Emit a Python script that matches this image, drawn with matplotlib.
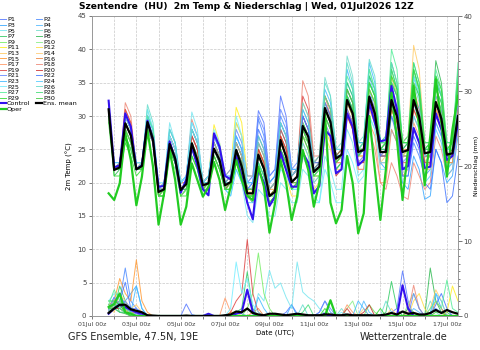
import numpy as np
import matplotlib
matplotlib.use("Agg")
import matplotlib.pyplot as plt
from matplotlib.ticker import MultipleLocator

# 6-hourly steps from 01Jul 18z to 17Jul 12z, in days since 01Jul 00z
steps_h = np.arange(18, 18 + 6 * 64, 6)
days = steps_h / 24.0

tick_days = np.arange(0, 17)
tick_labels = ["%02dJul 00z" % (d + 1) if d % 2 == 0 else "" for d in tick_days]

# 2m temperature (degC)
temp_members = [
    [30, 22,22,29,27, 22,23,29,26, 19,19,26,24, 20,21,27,25, 20,21,26,24, 21,21,27,25, 20,21,30.8,29, 21,22,33,30, 22,22,29,27, 21,22,30,28, 23,24,31,29, 24,25,32,30, 24,25,31,29, 22,22,28,26, 23,24,31,29, 24,24,29],
    [31, 22,22,30,28, 22,22,28,26, 18,19,25,23, 19,20,27,25, 20,20,24,22, 20,21,26,24, 19,20,29.5,27, 20,21,30,28, 21,22,27,25, 22,23,31,29, 24,24,33,31, 25,25,34,31, 25,26,30,28, 21,21,26,24, 21,22,29,27, 22,23,28],
    [30, 22,22,28,26, 22,22,30,28, 19,19,27,25, 19,20,26,24, 19,20,25,23, 20,20,25,23, 19,19,27,25, 19,20,28,26, 21,22,29,27, 23,23,32,30, 24,25,34,32, 25,26,33,31, 23,22,28,26, 20,19,24,22, 17.5,18,25,23, 20,21,27],
    [31, 22,23,30,28, 23,23,30,27, 19,20,27,25, 20,20,28,26, 20,21,27,25, 20,21,27,25, 20,20,25,23, 19,20,27,25, 21,22,30,28, 22,23,32,30, 24,25,35,33, 26,26,36,33, 25,25,33,30, 24,25,32,29, 23,24,29,27, 23,23,28],
    [31, 23,23,29,27, 23,23,30,28, 19,20,29,26, 20,21,30.6,28, 20,21,27,25, 19,18,22,20, 15,14,19,18, 15,15,20,19, 17,17,22,21, 17,17,24,22, 19,19,28,26, 21,22,30,28, 22,22,31,29, 22,23,30,28, 22,22,30,28, 22,23,31],
    [32, 22,22,30,28, 22,23,31,28, 19,19,28,26, 19,20,28,26, 20,20,26,24, 20,21,29,27, 19,19,26,24, 19,20,28,26, 21,22,31,29, 23,24,35.8,33, 25,26,39,36, 26,27,37,34, 26,26,36,33, 26,26,35,32, 25,25,34,32, 25,26,34],
    [30, 22,22,27,25, 22,22,28,26, 18,19,25,23, 18,19,24,22, 19,19,24,22, 19,20,24,22, 18,18,23,21, 18,19,26,24, 20,21,29,27, 22,23,33,31, 24,25,35,33, 25,26,36,34, 26,27,37,34, 26,26,36,33, 25,26,36,33, 25,25,35],
    [31, 21,22,28,26, 22,22,29,27, 18,18,25,23, 18,19,25,23, 19,20,24,22, 19,19,23,21, 18,17,22,20, 17,18,25,23, 19,20,28,26, 21,22,30,28, 23,24,32,30, 25,25,35,33, 26,26,38,35, 26,27,37,34, 26,26,38.3,35, 26,26,37],
    [30, 22,22,27,25, 22,22,28,26, 18,18,24,22, 18,19,24,22, 19,20,25,23, 19,20,25,23, 19,19,25,23, 18,19,25,23, 20,21,29,27, 22,23,32,30, 24,25,33,31, 26,26,34,32, 26,26,36,33, 25,26,36,34, 25,26,35,33, 25,26,36],
    [31, 22,22,29,27, 22,23,29,27, 19,19,26,24, 19,20,25,23, 20,21,26,24, 20,20,24,22, 18,18,23,21, 18,18,24,22, 19,20,27,26, 21,22,31,29, 23,24,33,31, 24,25,34,32, 25,26,35,33, 26,26,37,34, 25,25,34,32, 25,25,33],
    [31, 22,23,29,27, 22,23,29,27, 19,20,26,24, 19,20,26,24, 20,21,28.7,26, 21,22,31.3,29, 21,21,27,25, 18,18,24,22, 19,20,26,24, 20,21,28,26, 22,23,31,29, 24,24,32,30, 24,24,31,29, 24,25,33,31, 24,24,33,31, 24,25,32],
    [31, 22,22,29,27, 22,22,28,26, 18,19,25,23, 19,20,25,23, 19,20,27,25, 20,21,29,27, 19,18,25,23, 17,17,23,21, 18,18,24,22, 19,20,27,25, 22,22,30,28, 23,24,31,29, 24,24,31,29, 24,24,32,30, 23,24,31,29, 23,24,32],
    [30, 22,22,28,26, 22,22,29,27, 19,19,26,24, 19,19,26,24, 19,20,25,23, 20,20,26,24, 19,19,24,22, 18,19,26,24, 20,21,28,26, 21,22,30,28, 23,24,33,31, 24,25,34,32, 25,26,36,33, 26,27,40.6,37, 26,26,33,30, 24,24,30],
    [30, 22,22,28,26, 22,22,28,26, 18,19,25,23, 18,19,25,23, 19,19,24,22, 19,20,25,23, 18,19,25,23, 18,19,26,24, 20,20,27,25, 21,21,29,27, 22,23,31,29, 23,23,31,29, 23,24,32,30, 24,24,30,28, 22,22,30,28, 23,23,31],
    [31, 22,23,30,28, 23,23,29,27, 19,20,27,25, 20,20,27,25, 20,21,26,24, 20,20,26,24, 19,19,25,23, 19,19,27,25, 20,21,30,28, 22,23,31,29, 23,24,32,30, 25,25,33,31, 24,24,33,31, 25,25,34,31, 24,24,31,29, 23,24,30],
    [31, 22,22,29,27, 22,22,28,26, 18,19,25,23, 19,19,26,24, 19,20,25,23, 19,20,24,22, 18,18,24,22, 18,19,26,24, 20,20,28,26, 21,22,30,28, 23,23,31,29, 24,24,32,30, 24,25,32,30, 24,24,31,29, 23,23,30,28, 23,23,31],
    [31, 22,22,31,29, 22,23,29,27, 19,19,26,24, 19,20,27,25, 20,20,25,23, 20,20,25,23, 19,19,24,22, 18,19,27,25, 21,22,32,30, 23,23,32,30, 23,24,31,29, 22,22,29,27, 20,20,28,26, 21,22,29,27, 22,23,31,29, 23,24,31],
    [31, 22,22,32,30, 22,23,30,28, 19,20,27,25, 20,21,29.5,27, 20,21,26,24, 20,20,26,24, 19,19,25,23, 19,20,29,27, 21,22,35.3,33, 24,24,33,30, 23,23,31,28, 22,22,28,25, 20,19,23,21, 18,17.5,23,21, 19,20,27,25, 21,22,28],
    [30, 22,22,31,29, 22,22,29,27, 19,19,27,25, 19,20,28,26, 20,20,26,24, 20,21,26,24, 19,19,26,24, 19,20,28,26, 21,22,33,31, 23,24,33,31, 24,25,34,32, 24,25,33,31, 23,23,31,29, 23,23,31,29, 23,23,32,30, 24,24,33],
    [31, 22,23,30,28, 22,22,29,27, 19,19,26,24, 19,20,27,25, 20,20,25,23, 19,20,25,23, 19,19,25,23, 18,19,27,25, 20,21,30,28, 22,23,31,29, 21,22,30,28, 23,23,32,30, 24,24,33,31, 24,24,32,30, 24,24,32,30, 24,25,32],
    [32, 22,22,30,28, 22,22,29,27, 19,19,26,24, 20,21,28,26, 20,21,27,25, 21,22,28,26, 21,21,30,28, 21,22,31,29, 22,23,30,28, 22,22,29,27, 22,23,31,29, 23,24,33,31, 24,25,34,31, 23,24,33,31, 24,24,33,31, 24,24,32],
    [31, 22,22,29,27, 22,22,28,26, 19,19,25,23, 19,19,25,23, 20,20,25,23, 20,20,25,23, 19,20,28,26, 20,21,29,27, 21,22,30,28, 23,23,32,30, 24,24,33,31, 24,25,33,30, 24,24,30,27, 21,21,27,25, 20,19,25,23, 17,18,24],
    [31, 23,23,30,28, 23,23,30,28, 19,20,28,26, 20,21,29,27, 20,21,27,25, 20,21,27,25, 20,20,27,25, 20,21,29,27, 22,22,31,29, 22,23,34,32, 25,25,37,34, 26,26,38,35, 25,26,35,33, 25,26,36,33, 25,25,35,33, 25,25,34],
    [31, 22,22,29,27, 22,23,30,28, 19,20,27,25, 20,21,28,26, 20,20,25,23, 19,18,22,20, 17,17,23,21, 17,17,24,22, 19,19,26,24, 20,21,30,28, 22,23,33,31, 24,25,35,33, 25,25,35,33, 22,22,30,28, 20,21,28,26, 21,22,29],
    [31, 22,23,30,28, 23,23,31,28, 20,20,27,25, 20,21,29,27, 20,21,28,26, 21,21,30,27, 20,19,24,22, 18,18,22,21, 19,19,24,22, 18,17,22,20, 17,17,25,23, 20,21,30,28, 23,23,33,31, 24,24,36,33, 24,25,34,32, 25,25,33],
    [31, 22,22,30,28, 22,22,31.7,29, 19,19,28,26, 19,20,28,26, 20,20,26,24, 20,20,26,24, 19,19,26,24, 19,20,29,27, 21,22,32,30, 23,24,35,33, 25,25,38,35, 25,26,38.5,36, 26,27,38,35, 26,26,37,34, 25,26,36,33, 25,25,36],
    [30, 22,22,28,26, 22,22,30,28, 18,19,26,24, 19,19,26,24, 19,20,25,23, 19,19,24,22, 18,18,24,22, 18,18,25,23, 19,20,28,26, 21,22,33,31, 24,24,36,34, 25,26,37,34, 26,26,40,37, 26,27,38,35, 26,26,37,34, 26,26,38],
    [30, 22,22,27,25, 22,22,29,27, 18,18,25,23, 18,19,25,23, 19,19,24,22, 19,19,24,22, 18,18,23,21, 17,18,25,23, 19,20,28,26, 21,22,31,29, 23,24,34,32, 25,25,35,33, 25,26,37,34, 26,26,38,35, 26,26,35,33, 25,26,36],
    [29, 21,21,26,24, 21,22,29,27, 18,18,25,23, 18,18,24,22, 18,19,24,22, 19,19,23,21, 18,18,22,20, 17,18,24,22, 19,20,27,25, 21,21,30,28, 22,23,33,31, 24,25,35,33, 25,26,36,34, 26,26,37,34, 25,26,36,34, 25,26,35],
    [30, 22,22,28,26, 22,22,29,27, 18,19,25,23, 19,19,25,23, 19,20,25,23, 19,20,25,23, 19,19,24,22, 18,19,25,23, 20,20,28,26, 22,22,31,29, 23,24,34,32, 25,25,34,32, 25,25,35,33, 25,26,35,33, 25,25,34,32, 24,25,34],
]
temp_control = [32.3, 22.3,22.6,30.4,28.4, 22,22.6,29.3,26.5, 19.4,19.5,26.2,23.5, 18.5,20.5,25.4,22.5,
                19,18.1,27.4,25.4, 21,20.5,24,21, 17,14.5,22,20, 16.5,17.9,24.6,21.9, 19.4,19.4,24.5,23,
                18.4,19.5,27.9,27, 21.4,22,30.4,28.4, 22.6,23.4,32,29, 26.2,26.4,34.5,31, 22,22.5,28.2,26,
                22.2,22.4,30.4,28, 23.4,24,29]
temp_oper = [18.4, 17.4,19.9,27.4,23.4, 16.6,20.9,27.9,22.4, 13.7,18.4,24.9,20.4, 13.7,16.4,22.9,20.4,
             17.9,19.4,23.1,20.4, 15.9,19.4,23.4,20.4, 18,17.4,22.4,19.4, 12.5,16.9,23.4,20, 14.4,17.9,24.9,21.9,
             16.4,20,30.4,17, 13.9,15.9,24,20, 12.4,15.4,30,22, 14.4,22,33.5,26.4, 17.4,25,34.5,28.4,
             19.6,27,35.5,29, 20.9,28,33]
temp_mean = [31, 21.9,22.3,28.9,27.1, 22,22.5,29.1,26.4, 18.6,19,25.8,23.6, 18.9,19.8,25.9,23.4,
             19.6,19.9,25.1,23.4, 19.6,20.1,24.9,22.4, 18.4,18.4,24.2,22.1, 18,18.6,26.4,23.9, 20.1,20.9,28.5,26.9,
             21.6,22.4,31.2,29.1, 23.6,24.2,32.4,30.4, 24.6,24.9,32.9,30.4, 24.6,24.6,32.4,29.9, 24.6,24.9,32.4,29.9,
             24.4,24.6,32.1,29.6, 24.2,24.4,30]

# precipitation (mm)
precip_members = [
    [.5, 2,3,1.5,.5, .3,0,0,0, 0,0,0,0, 0,1.6,.2,0, 0,0,0,0, 0,0,0,0, 0,0,0,0, 0,0,0,.5, 1.5,.3,0,0, 0,0,0,0, 0,0,0,0, 0,0,0,0, 0,0,.5,1, 6,2,0,0, 0,0,0,0, 0,0,0],
    [.8, 1.5,2,6.4,2, 1,.5,0,0, 0,0,0,0, 0,0,0,0, 0,0,0,0, 0,0,.5,.3, 0,0,0,0, 0,0,0,0, 0,0,0,0, 0,.5,2,.5, 0,0,0,0, 0,0,0,0, 0,0,0,0, 0,0,0,0, 0,.5,1,.5, 0,0,0],
    [1.2, 2.5,1,2,3, 4,1,0,0, 0,0,0,0, 0,0,0,0, 0,0,0,0, 0,0,0,0, 0,0,0,0, 0,0,0,0, 1.5,0,0,0, 0,0,0,0, 0,0,0,0, 0,0,0,0, 0,0,0,0, 0,0,0,0, 0,.5,3,1, 0,0,0],
    [.3, 1,2,1,.5, .5,0,0,0, 0,0,0,0, 0,0,0,0, 0,0,0,0, 0,0,0,0, 0,0,0,0, 0,0,0,0, 0,0,0,0, 0,0,0,0, 0,0,0,0, 0,2,.5,0, 0,0,0,0, 0,0,1,.5, 0,0,0,0, 0,0,0],
    [2, 3,1.5,.5,0, 0,0,0,0, 0,0,0,0, 0,0,0,0, 0,0,0,0, 0,0,0,0, 0,0,3,2, 6.1,3.7,4.4,2.5, 1,7.2,3.2,2.5, 2,1,.3,0, 0,0,0,0, 0,0,0,0, 0,0,0,0, 0,0,0,0, 0,0,0,0, 0,0,0],
    [1.5, 2,1,.5,0, 0,0,0,0, 0,0,0,0, 0,0,0,0, 0,0,0,0, 0,0,0,0, 0,0,0,0, 0,0,0,0, 0,0,0,0, 0,0,0,0, 0,1,0,0, 0,0,0,0, 0,0,0,0, 0,0,0,0, 0,2,.5,0, 0,0,0],
    [1.5, 1,4,2,.5, 0,0,0,0, 0,0,0,0, 0,0,0,0, 0,0,0,0, 0,0,.5,1, 5.9,1,0,0, 0,0,0,0, 0,0,0,0, 0,0,0,0, 0,0,0,0, 0,0,0,0, 0,.5,4.6,1, 0,0,.5,0, 0,0,0,0, 0,0,0],
    [1, 2,.5,.3,0, 0,0,0,0, 0,0,0,0, 0,0,0,0, 0,0,0,0, 0,0,0,0, 0,0,0,0, 0,0,0,0, 0,0,0,0, 0,0,0,0, 0,0,0,0, 0,0,0,0, 0,0,0,0, 0,0,0,0, 0,6.4,2,.5, .5,0,0],
    [.5, 1.5,2,1,0, 0,0,0,0, 0,0,0,0, 0,0,0,0, 0,0,0,0, 0,0,0,0, 1,3,8.4,3, 1,0,0,0, 0,0,0,0, 0,0,0,0, 0,0,0,0, 0,0,1.5,.5, 0,0,0,0, 0,0,0,0, 0,0,0,0, 0,0,0],
    [1, 1,1.5,.5,.5, 0,0,0,0, 0,0,0,0, 0,0,0,0, 0,0,0,0, 0,0,0,0, 0,0,0,0, 0,0,0,0, 0,0,0,0, 0,0,0,0, 0,0,1,2, 0,0,0,0, 0,0,0,0, 0,1.5,3,1, 0,0,0,0, 0,0,0],
    [.5, 1,2,.5,0, 0,0,0,0, 0,0,0,0, 0,0,0,0, 0,0,0,0, 0,.5,.5,0, 0,0,0,0, 0,0,0,0, 0,0,0,0, 0,0,0,0, 0,0,0,0, 0,0,0,0, 0,0,0,0, 0,0,0,0, 0,0,0,0, .5,4,2],
    [1, 2,1,.5,0, 0,0,0,0, 0,0,0,0, 0,0,0,0, 0,0,0,0, 0,0,0,0, 0,0,0,0, 0,0,0,0, 0,0,0,0, 0,0,0,0, 0,0,0,0, 0,0,0,0, 0,0,0,0, 0,0,2,3, 1,0,0,0, 0,0,0],
    [1, .5,3,2,1, 1.5,.5,0,0, 0,0,0,0, 0,0,0,0, 0,0,0,0, 0,0,0,0, 0,0,0,0, 0,0,0,0, 0,0,0,0, 0,0,0,0, 0,0,0,0, 0,0,0,0, 0,0,1,0, 0,0,0,0, 0,1,3.5,2, 0,0,0],
    [1, 2,1,.5,.5, 0,0,0,0, 0,0,0,0, 0,0,0,0, 0,0,0,0, 0,0,0,0, 0,0,0,0, 0,0,0,0, 0,0,0,0, 0,0,0,0, 0,0,0,0, 0,1,0,0, 0,0,0,0, 0,0,0,0, 0,0,0,0, 0,0,0],
    [1.5, 2,5,3,2, 7.5,2,.5,0, 0,0,0,0, 0,0,0,0, 0,0,0,0, 0,0,0,0, 0,0,0,0, 0,0,0,0, 0,0,0,0, 0,0,0,0, 0,0,0,0, 0,0,0,0, 0,0,0,0, 0,0,0,0, 0,0,2,1, 0,0,0],
    [.8, 1.5,2,1,.5, .5,0,0,0, 0,0,0,0, 0,0,0,0, 0,0,0,0, 0,0,0,0, 0,.5,1,0, 0,0,0,0, 0,0,0,0, 0,0,0,0, 0,0,0,0, 0,0,0,0, 0,0,0,0, 0,1,.5,0, 0,0,0,0, 0,0,0],
    [.5, 1,1.5,1,0, 0,0,0,0, 0,0,0,0, 0,0,0,0, 0,0,0,0, 2.4,.5,0,0, 0,0,0,0, 0,0,0,0, 0,0,0,0, 0,0,0,0, 0,0,1.5,.5, 0,0,0,0, 0,0,0,0, 0,0,0,0, 0,0,0,0, 0,0,0],
    [.3, 1,2,1.5,.5, 0,0,0,0, 0,0,0,0, 0,0,0,0, 0,0,0,0, 0,0,0,0, 0,0,0,0, 0,0,0,0, 0,0,0,0, 0,0,0,0, 0,0,0,0, 0,0,0,0, 0,0,.5,0, 0,.5,4.1,1, 0,0,0,0, 0,0,0],
    [1, 2,1.5,.5,0, 0,0,0,0, 0,0,0,0, 0,0,0,0, 0,0,0,0, 0,.5,2,3, 10.2,3,.5,0, 0,0,0,0, 0,0,0,0, 0,0,0,0, 0,0,1,0, 0,0,0,0, 0,0,0,0, 0,0,0,0, 0,0,0,0, 0,0,0],
    [.5, 1,1,.5,0, 0,0,0,0, 0,0,0,0, 0,0,0,0, 0,0,0,0, 0,0,0,0, 0,0,0,0, 0,0,0,0, 0,0,0,0, 0,0,0,0, 0,0,0,0, 0,.5,1.5,0, 0,0,0,0, 0,0,0,0, 0,0,0,0, 0,0,0],
    [.8, 2.5,1.5,2,1, 1,0,0,0, 0,0,0,0, 0,0,0,0, 0,0,0,0, 0,0,0,0, 0,0,0,0, 0,0,0,0, 0,0,0,0, 0,.5,2,1, 0,0,0,0, 0,0,0,0, 0,0,0,0, 0,0,3,1, 0,0,0,0, 0,0,0],
    [.5, 1,2,4.5,1, .5,0,0,0, 0,0,0,0, 0,0,0,0, 0,0,0,0, 0,0,0,0, 0,0,0,0, 0,0,0,0, 0,0,0,0, 0,0,0,0, 0,0,0,0, 0,0,0,0, 0,0,0,0, 0,0,0,0, 0,0,1.5,3, 1,0,0],
    [1, 1.5,3,1,.5, 4,1,0,0, 0,0,0,0, 0,0,0,0, 0,0,0,0, 0,0,0,0, 0,0,2.5,1, 0,0,0,0, 0,0,0,0, 0,0,0,0, 0,0,0,0, 2,1,0,0, 0,0,0,0, 0,0,0,0, 0,0,0,0, 0,0,0],
    [.5, 1,.5,.5,0, 0,0,0,0, 0,0,0,0, 0,0,0,0, 0,0,0,0, 0,0,0,0, 0,0,0,0, 0,0,0,0, 0,0,0,0, 0,0,0,0, 0,0,0,0, 0,0,0,0, 0,0,0,0, 0,0,0,0, 0,0,3,2, 0,0,0],
    [1, 2,1,.5,0, 0,0,0,0, 0,0,0,0, 0,0,0,0, 0,0,0,0, 0,1,7.2,3, 5,1.5,.5,0, 0,0,0,0, 0,0,0,0, 0,0,0,0, 0,.5,0,0, 0,0,0,0, 0,0,0,0, 0,0,0,0, 0,0,0,0, 0,0,0],
    [.8, 1,2,.5,0, 0,0,0,0, 0,0,0,0, 0,0,0,0, 0,0,0,0, 0,0,0,0, 0,0,0,0, 0,0,0,0, 0,0,1.5,0, 0,0,0,0, 0,0,0,0, 0,0,0,0, 0,2,.5,0, 0,0,0,0, 0,0,0,0, 0,0,0],
    [1.5, 3.5,2,1,.5, 0,0,0,0, 0,0,0,0, 0,0,0,0, 0,0,0,0, 0,0,0,0, 0,0,0,0, 0,0,0,0, 0,0,0,0, 0,0,0,0, 0,0,0,0, 0,0,0,0, 0,0,0,0, 0,0,0,0, 0,1,2,1, 4.8,1,.5],
    [1, 1.5,1,.5,0, 0,0,0,0, 0,0,0,0, 0,0,0,0, 0,0,0,0, 0,0,0,0, 0,0,0,0, 0,0,0,0, 0,0,.5,1.5, 0,0,0,0, 0,0,0,0, 0,0,0,0, 0,0,0,0, 0,1,.5,0, 0,0,0,0, 0,0,0],
    [2, 2,1.5,.5,0, 0,0,0,0, 0,0,0,0, 0,0,0,0, 0,0,0,0, 0,0,0,0, 0,0,0,0, 0,0,0,0, 0,0,0,0, 0,0,1,0, 0,0,0,0, 0,0,0,0, 1,0,0,0, 0,0,0,0, 0,0,0,0, 0,0,0],
    [1, 1,.5,.5,0, 0,0,0,0, 0,0,0,0, 0,0,0,0, 0,0,0,0, 0,0,0,0, 0,0,0,0, 0,0,0,0, 0,0,0,0, 0,0,0,0, 0,0,0,0, 0,0,0,0, 0,0,0,0, 0,0,0,0, 0,0,.5,.5, 0,0,0],
]
precip_control = [.3, 1,1.5,1.2,.8, .5,.3,0,0, 0,0,0,0, 0,0,0,0, 0,.3,0,0, 0,0,.3,.5, 3.5,.5,0,0, 0,0,0,0,
                  0,0,0,0, 0,0,.3,0, 0,0,0,0, 0,0,0,0, 0,0,0,0, 4.1,1,0,0, 0,0,0,0, 0,0,0]
precip_oper = [1.2, 1.6,3,.5,.3, 0,0,0,0, 0,0,0,0, 0,0,0,0, 0,0,0,0, 0,0,0,0, 0,0,0,0, 0,0,0,0,
               0,0,0,0, 0,0,0,2.1, 0,0,0,0, 0,0,0,0, 0,0,0,0, 0,0,0,0, 0,0,0,0, 0,0,0]
precip_mean = [.4, 1,1.5,1.5,.9, .7,.5,.1,.05, 0,0,0,0, 0,.05,0,0, 0,0,0,0, .1,.2,.6,.5, 1,.4,.2,.1,
               .3,.3,.2,.1, .2,.3,.2,.1, .1,.1,.2,.2, .1,.1,.2,.1, .1,.1,.1,.05, .1,.2,.4,.2, .6,.3,.4,.2,
               .2,.4,.8,.4, .8,.5,.3]

member_names = ["P%d" % (i + 1) for i in range(30)]
member_colors = ["#5577ff", "#4f8cff", "#3aa8ff", "#55bbff", "#77e6f0", "#77ddcc", "#33cc66", "#33bb55",
                 "#77ee66", "#88ee88", "#ffee22", "#ffdd44", "#ffcc66", "#ffcc77", "#ff9933", "#ee8844",
                 "#ff9966", "#ee8877", "#dd4444", "#cc3333", "#6688ff", "#4477ff", "#44bbff", "#55ccff",
                 "#77eeff", "#66ddcc", "#55ee99", "#44dd77", "#33dd33", "#44cc44"]
control_color = "#3311ee"
oper_color = "#22cc22"
mean_color = "black"

for m in temp_members + precip_members:
    assert len(m) == len(days), len(m)

fig = plt.figure(figsize=(4.8, 3.5), dpi=100)
ax = fig.add_axes([92 / 480, 34 / 350, 366 / 480, 300 / 350])
ax2 = ax.twinx()

handles = {}
for name, col, tv, pv in zip(member_names, member_colors, temp_members, precip_members):
    handles[name], = ax.plot(days, tv, color=col, lw=0.7, alpha=0.85)
    ax2.plot(days, pv, color=col, lw=0.7, alpha=0.85)

handles["Control"], = ax.plot(days, temp_control, color=control_color, lw=1.5)
ax2.plot(days, precip_control, color=control_color, lw=1.5)
handles["Oper"], = ax.plot(days, temp_oper, color=oper_color, lw=1.6)
ax2.plot(days, precip_oper, color=oper_color, lw=1.6)
handles["Ens. mean"], = ax.plot(days, temp_mean, color=mean_color, lw=1.6)
ax2.plot(days, precip_mean, color=mean_color, lw=1.6)

ax.set_xlim(0, 16.5)
ax.set_ylim(0, 45)
ax2.set_ylim(0, 40)
ax.set_xticks(tick_days)
ax.set_xticklabels(tick_labels)
ax.yaxis.set_major_locator(MultipleLocator(5))
ax2.yaxis.set_major_locator(MultipleLocator(10))
ax2.yaxis.set_minor_locator(MultipleLocator(1))
ax.grid(color="#c8c8c8", linestyle="--", linewidth=0.5)
ax.tick_params(labelsize=4.5, length=2, width=0.5, colors="#444444", pad=2)
ax2.tick_params(which="both", labelsize=5, width=0.5, colors="#444444", pad=1)
ax2.tick_params(which="major", length=3)
ax2.tick_params(which="minor", length=1.5)
ax.tick_params(axis="y", labelsize=5)
for a in (ax, ax2):
    for s in a.spines.values():
        s.set_color("#999999")
        s.set_linewidth(0.6)

ax.set_ylabel("2m Temp (°C)", fontsize=5, labelpad=3)
ax2.set_ylabel("Niederschlag (mm)", fontsize=4.5, labelpad=1)
ax.set_xlabel("Date (UTC)", fontsize=5, labelpad=2)

fig.text(0.513, 0.982, "Szentendre  (HU)  2m Temp & Niederschlag | Wed, 01Jul2026 12Z",
         ha="center", va="center", fontsize=6.6, fontweight="bold")
fig.text(68 / 480, 1 - 337 / 350, "GFS Ensemble, 47.5N, 19E", ha="left", va="center", fontsize=7, color="#222222")
fig.text(447 / 480, 1 - 337 / 350, "Wetterzentrale.de", ha="right", va="center", fontsize=7, color="#222222")

# two-column legend, filled row by row
order = member_names[0::2] + ["Control", "Oper"] + member_names[1::2] + ["Ens. mean"]
fig.legend([handles[k] for k in order], order, loc="upper left", bbox_to_anchor=(0.0, 1 - 17 / 350),
           ncol=2, fontsize=4.6, frameon=False, handlelength=0.9, handletextpad=0.2,
           labelspacing=0.02, columnspacing=0.9, borderpad=0, borderaxespad=0)

fig.savefig("out.png", dpi=100)
